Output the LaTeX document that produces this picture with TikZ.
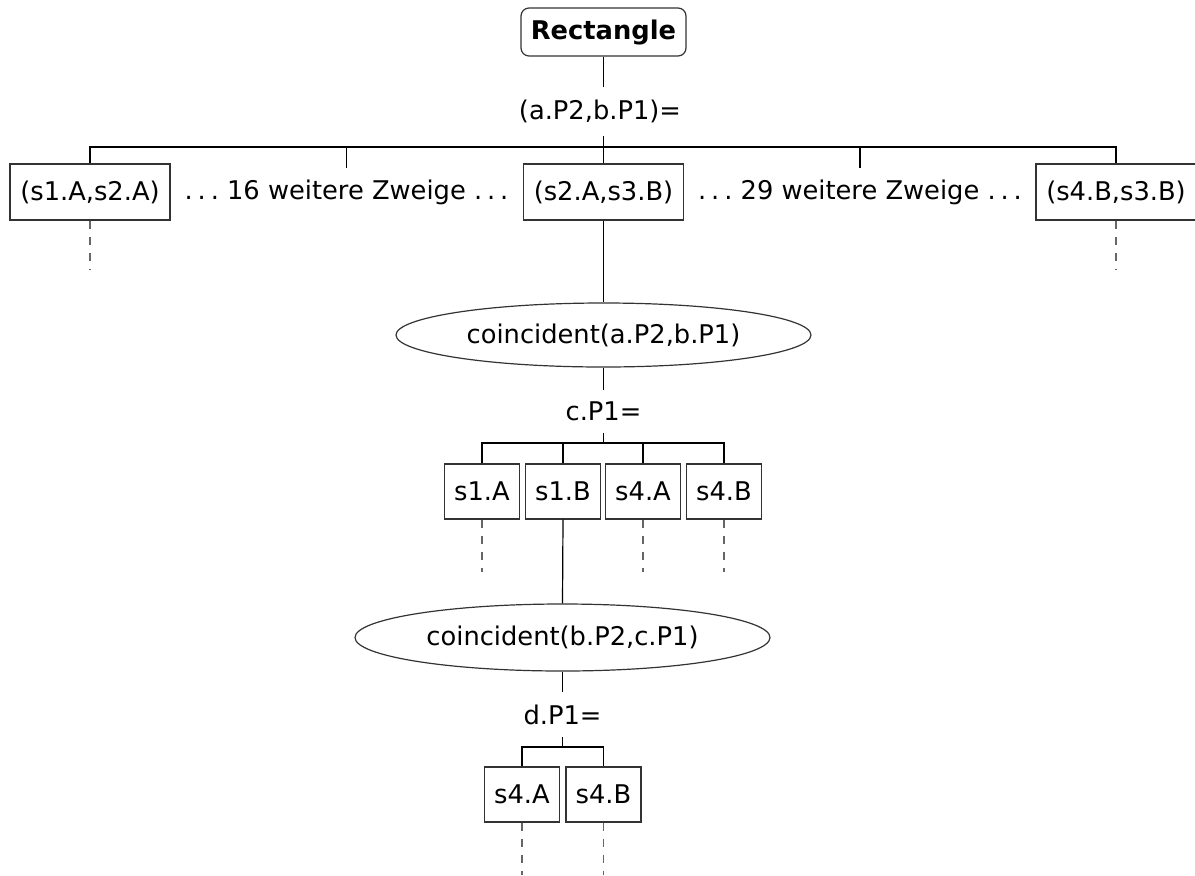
\documentclass[tikz,border=0pt]{standalone}
\usepackage{fontspec}
\setmainfont{DejaVu Sans}
\usetikzlibrary{shapes.geometric}
\newcommand\mydots{.\kern0.19em.\kern0.19em.}
\begin{document}
\begin{tikzpicture}[x=0.75pt,y=-0.75pt,
  every node/.style={font=\fontsize{19.3}{23}\selectfont},
  conn/.style={line width=0.9pt,draw=black},
  dashconn/.style={line width=1pt,draw=black!60,dash pattern=on 6pt off 6pt},
  rootbox/.style={draw=black!80,line width=0.9pt,rounded corners=6pt,minimum width=123.75pt,minimum height=36pt,inner sep=0pt,font=\fontsize{19.3}{23}\selectfont\bfseries},
  labelnode/.style={inner sep=0pt},
  bigbox/.style={draw=black!80,line width=0.9pt,minimum width=120pt,minimum height=42pt,inner sep=0pt},
  smallbox/.style={draw=black!80,line width=0.9pt,minimum width=56.25pt,minimum height=41.25pt,inner sep=0pt},
  dotsnode/.style={inner sep=0pt,minimum height=36pt},
  ellnode/.style={ellipse,draw=black!80,line width=0.9pt,inner sep=0pt}
]
\useasboundingbox (0,0) rectangle (1195,875);

% root
\node[rootbox] (root) at (603.5,32) {Rectangle};
\node[labelnode,minimum height=36.75pt] (lab1) at (600,111.5) {(a.P2,b.P1)=};
\coordinate (j1) at (603.5,147);

\node[bigbox] (b1) at (90,192) {(s1.A,s2.A)};
\node[dotsnode] (d1) at (346.5,192) {\mydots\ 16 weitere Zweige \mydots};
\node[bigbox] (b2) at (603.5,192) {(s2.A,s3.B)};
\node[dotsnode] (d2) at (860,192) {\mydots\ 29 weitere Zweige \mydots};
\node[bigbox] (b3) at (1116,192) {(s4.B,s3.B)};

\draw[conn] (root.south) -- (root.south |- lab1.north);
\draw[conn] (j1 |- lab1.south) -- (j1);
\draw[conn] (j1) -| (b1.north);
\draw[conn] (j1) -| (d1.north);
\draw[conn] (j1) -- (b2.north);
\draw[conn] (j1) -| (d2.north);
\draw[conn] (j1) -| (b3.north);

\coordinate (e1) at (90,270);
\coordinate (e3) at (1116,270);
\draw[dashconn] (b1.south) -- (e1);
\draw[dashconn] (b3.south) -- (e3);

% first ellipse
\node[ellnode,minimum width=311.25pt,minimum height=48pt] (el1) at (603.5,335) {coincident(a.P2,b.P1)};
\draw[conn] (b2.south) -- (el1.north);
\node[labelnode,minimum height=32.25pt] (lab2) at (603.5,411.5) {c.P1=};
\draw[conn] (el1.south) -- (lab2.north);
\coordinate (j2) at (603.5,443);
\draw[conn] (lab2.south) -- (j2);

\node[smallbox] (c1) at (482,491.5) {s1.A};
\node[smallbox] (c2) at (563,491.5) {s1.B};
\node[smallbox] (c3) at (643,491.5) {s4.A};
\node[smallbox] (c4) at (724,491.5) {s4.B};
\draw[conn] (j2) -| (c1.north);
\draw[conn] (j2) -| (c2.north);
\draw[conn] (j2) -| (c3.north);
\draw[conn] (j2) -| (c4.north);

\coordinate (f1) at (482,572);
\coordinate (f3) at (643,572);
\coordinate (f4) at (724,572);
\draw[dashconn] (c1.south) -- (f1);
\draw[dashconn] (c3.south) -- (f3);
\draw[dashconn] (c4.south) -- (f4);

% second ellipse
\node[ellnode,minimum width=311.25pt,minimum height=50.25pt] (el2) at (562.5,637.5) {coincident(b.P2,c.P1)};
\draw[conn] (c2.south) -- (el2.north);
\node[labelnode,minimum height=33.75pt] (lab3) at (562.5,714.5) {d.P1=};
\draw[conn] (el2.south) -- (lab3.north);
\coordinate (j3) at (562.5,747);
\draw[conn] (lab3.south) -- (j3);

\node[smallbox] (g1) at (522,794.5) {s4.A};
\node[smallbox] (g2) at (603.5,794.5) {s4.B};
\draw[conn] (j3) -| (g1.north);
\draw[conn] (j3) -| (g2.north);

\coordinate (h1) at (522,875);
\coordinate (h2) at (603.5,875);
\draw[dashconn] (g1.south) -- (h1);
\draw[dashconn] (g2.south) -- (h2);
\end{tikzpicture}
\end{document}
